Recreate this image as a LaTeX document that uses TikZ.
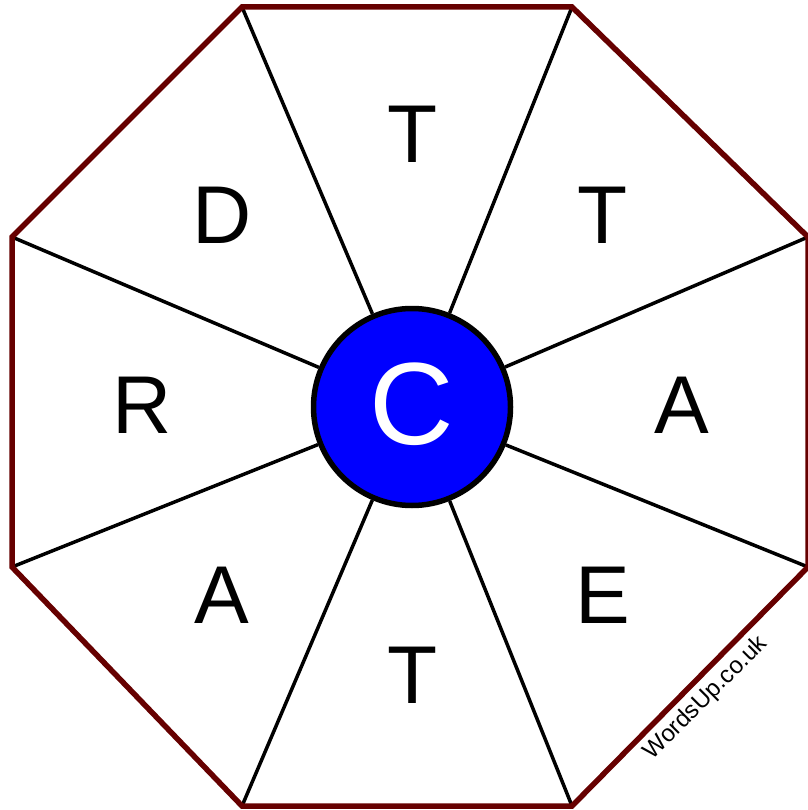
\documentclass[tikz,border=0pt]{standalone}
\usepackage{fontspec}
\setmainfont{Liberation Sans}
\definecolor{octred}{HTML}{660000}
\definecolor{hubblue}{HTML}{0000FF}
\begin{document}
\begin{tikzpicture}[x=1pt,y=-1pt,
  rim/.style={draw=octred,line width=5.5pt,line join=miter},
  spoke/.style={draw=black,line width=3.5pt},
  hub/.style={circle,draw=black,fill=hubblue,line width=5.5pt,minimum size=197pt,inner sep=0pt},
  letter/.style={anchor=base,inner sep=0pt,font=\fontsize{82}{82}\selectfont},
  hubletter/.style={anchor=base,inner sep=0pt,text=white,font=\fontsize{117}{117}\selectfont},
  watermark/.style={rotate=45,inner sep=0pt,font=\fontsize{24}{24}\selectfont}]
\useasboundingbox (0,0) rectangle (807,810);
\coordinate (v1) at (242,7);
\coordinate (v2) at (572,7);
\coordinate (v3) at (808,237);
\coordinate (v4) at (808,567);
\coordinate (v5) at (572,806);
\coordinate (v6) at (242,806);
\coordinate (v7) at (12,567);
\coordinate (v8) at (12,237);
\node[hub] (c) at (412,407) {};
\foreach \i in {1,...,8} {\draw[spoke] (v\i) -- (c);}
\draw[rim] (v1) -- (v2) -- (v3) -- (v4) -- (v5) -- (v6) -- (v7) -- (v8) -- cycle;
\node[hubletter] (lc) at (412,444) {C};
\node[letter] (l1) at (413,163) {T};
\node[letter] (l2) at (603,243) {T};
\node[letter] (l3) at (682,433) {A};
\node[letter] (l4) at (603,623) {E};
\node[letter] (l5) at (413,703) {T};
\node[letter] (l6) at (222,623) {A};
\node[letter] (l7) at (142,433) {R};
\node[letter] (l8) at (222,243) {D};
\node[watermark] (wm) at (706,698) {WordsUp.co.uk};
\end{tikzpicture}
\end{document}
